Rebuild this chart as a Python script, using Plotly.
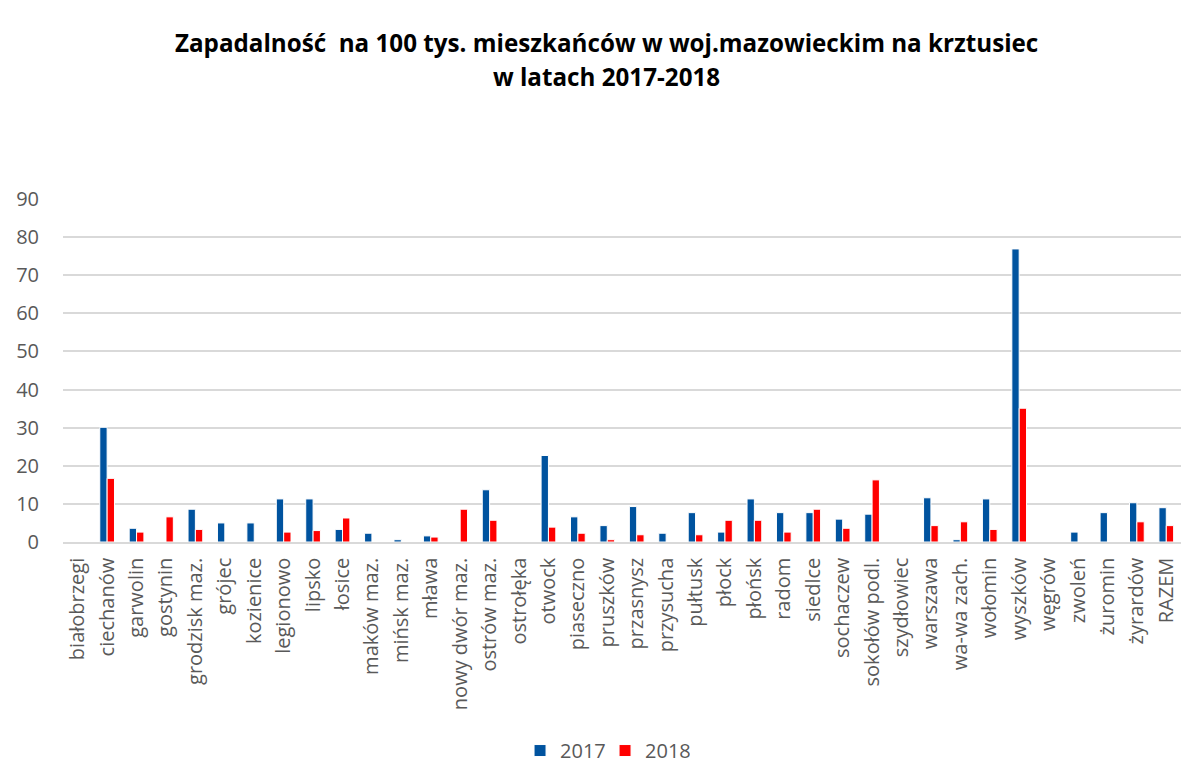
import plotly.graph_objects as go

powiaty = ["białobrzegi", "ciechanów", "garwolin", "gostynin", "grodzisk maz.", "grójec",
           "kozienice", "legionowo", "lipsko", "łosice", "maków maz.", "mińsk maz.", "mława",
           "nowy dwór maz.", "ostrów maz.", "ostrołęka", "otwock", "piaseczno", "pruszków",
           "przasnysz", "przysucha", "pułtusk", "płock", "płońsk", "radom", "siedlce",
           "sochaczew", "sokołów podl.", "szydłowiec", "warszawa", "wa-wa zach.", "wołomin",
           "wyszków", "węgrów", "zwoleń", "żuromin", "żyrardów", "RAZEM"]

z2017 = [0, 30.1, 3.6, 0, 8.6, 5.0, 5.0, 11.3, 11.3, 3.3, 2.3, 0.6, 1.6,
         0, 13.7, 0, 22.7, 6.6, 4.3, 9.3, 2.3, 7.7, 2.6, 11.3, 7.7, 7.7,
         6.0, 7.3, 0, 11.6, 0.6, 11.3, 76.9, 0, 2.6, 7.7, 10.3, 9.0]
z2018 = [0, 16.7, 2.6, 6.6, 3.3, 0, 0, 2.6, 3.0, 6.3, 0, 0, 1.3,
         8.6, 5.7, 0, 3.9, 2.3, 0.6, 1.9, 0, 1.9, 5.7, 5.7, 2.6, 8.6,
         3.6, 16.3, 0, 4.3, 5.3, 3.3, 35.1, 0, 0, 0, 5.3, 4.3]

tytul = ["Zapadalność  na 100 tys. mieszkańców w woj.mazowieckim na krztusiec",
         "w latach 2017-2018"]

fig = go.Figure()
fig.add_trace(go.Bar(x=powiaty, y=z2017, name="2017",
                     marker=dict(color="#00539F", line=dict(color="white", width=1))))
fig.add_trace(go.Bar(x=powiaty, y=z2018, name="2018",
                     marker=dict(color="#FF0000", line=dict(color="white", width=1))))

# two title lines as separate annotations (to control line spacing)
for txt, yy in zip(tytul, [1.4566, 1.3584]):
    fig.add_annotation(text="<b>" + txt + "</b>", xref="paper", yref="paper",
                       x=0.4857, y=yy, xanchor="center", yanchor="middle", showarrow=False,
                       font=dict(size=24.2, color="#000000", family="Open Sans, sans-serif"))

fig.update_layout(
    width=1183, height=772,
    paper_bgcolor="white", plot_bgcolor="white",
    font=dict(family="Open Sans, sans-serif", color="#595959"),
    margin=dict(l=55, r=10, t=191, b=235),
    barmode="group", bargap=0.5, bargroupgap=0,
    showlegend=True,
    legend=dict(orientation="h", x=0.4088, xanchor="left", y=-0.608, yanchor="middle",
                font=dict(size=20, color="#595959"), itemwidth=30,
                entrywidth=40, entrywidthmode="pixels"),
    yaxis=dict(range=[0, 90], dtick=10, showgrid=True, gridcolor="#D9D9D9", gridwidth=1.5,
               zeroline=False, showline=False, ticks="", ticklabelstandoff=23,
               automargin=False, tickfont=dict(size=20, color="#595959")),
    xaxis=dict(showline=True, linecolor="#D9D9D9", linewidth=1.5, ticks="",
               tickangle=-90, ticklabelstandoff=6, automargin=False,
               tickfont=dict(size=20, color="#595959")),
)

fig.write_html("out.html")
